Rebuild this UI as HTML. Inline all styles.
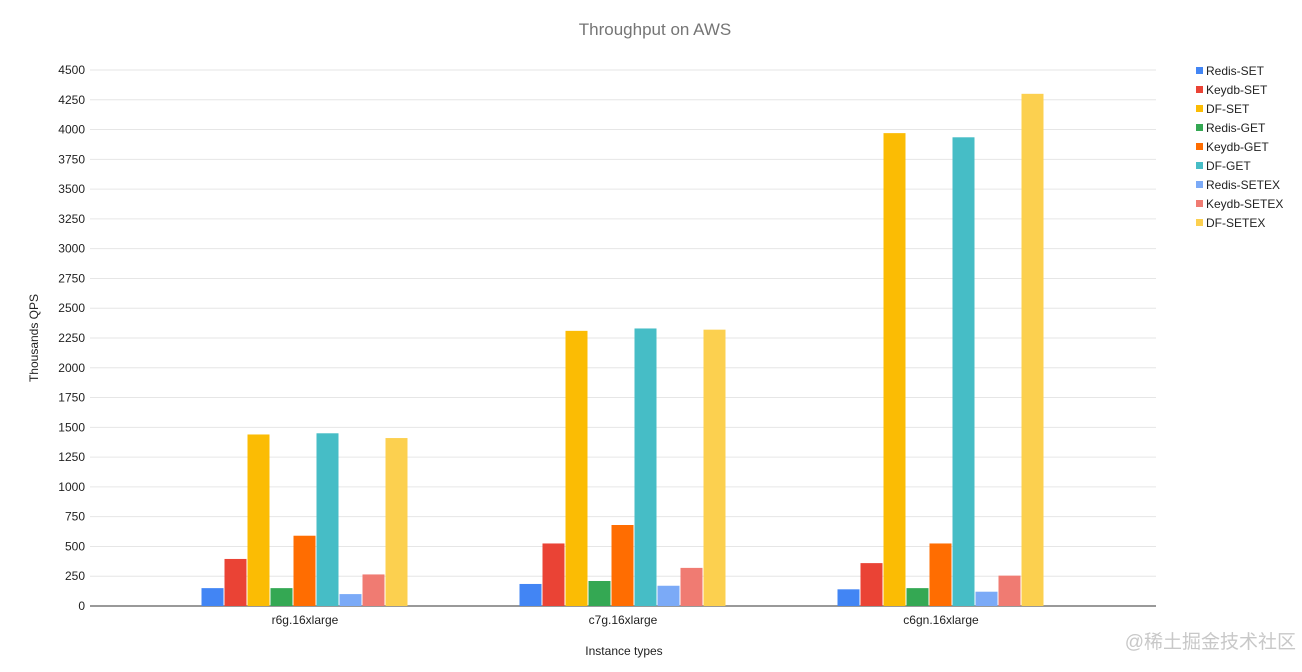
<!DOCTYPE html>
<html><head><meta charset="utf-8"><style>
body{margin:0;background:#fff;font-family:"Liberation Sans","Noto Sans CJK SC",sans-serif;}
svg{display:block}
</style></head><body>
<svg id="chart" width="1302" height="672" xmlns="http://www.w3.org/2000/svg">
<text x="655" y="35" text-anchor="middle" font-size="17" fill="#757575">Throughput on AWS</text>
<text transform="translate(38,338) rotate(-90)" text-anchor="middle" font-size="12" fill="#222">Thousands QPS</text>
<text x="624" y="655" text-anchor="middle" font-size="12" fill="#222">Instance types</text>
<g id="grid"></g><g id="bars"></g><g id="legend"></g>
<text x="1296" y="648" text-anchor="end" font-size="19" fill="#c8c8c8">@稀土掘金技术社区</text>
</svg>
<script>
const categories=["r6g.16xlarge","c7g.16xlarge","c6gn.16xlarge"];
const seriesNames=["Redis-SET","Keydb-SET","DF-SET","Redis-GET","Keydb-GET","DF-GET","Redis-SETEX","Keydb-SETEX","DF-SETEX"];
const redisSet=[150,185,140];
const keydbSet=[395,525,360];
const dfSet=[1440,2310,3970];
const redisGet=[150,210,150];
const keydbGet=[590,680,525];
const dfGet=[1450,2330,3935];
const redisSetex=[100,170,120];
const keydbSetex=[265,320,255];
const dfSetex=[1410,2320,4300];
const yTicks=[0,250,500,750,1000,1250,1500,1750,2000,2250,2500,2750,3000,3250,3500,3750,4000,4250,4500];
const series=[redisSet,keydbSet,dfSet,redisGet,keydbGet,dfGet,redisSetex,keydbSetex,dfSetex];
const colors=["#4285f4","#ea4335","#fbbc04","#34a853","#ff6d01","#46bdc6","#7baaf7","#f07b72","#fcd04f"];
const NS="http://www.w3.org/2000/svg";
const y0=606,y1=70,yMax=4500,xL=90,xR=1156,bandStart=146,band=318,step=23,bw=22;
const y=v=>y0-(v/yMax)*(y0-y1);
const xc=i=>bandStart+band*(i+0.5);
function mk(t,a,p){const e=document.createElementNS(NS,t);for(const k in a)e.setAttribute(k,a[k]);p.appendChild(e);return e;}
const grid=document.getElementById('grid'),bars=document.getElementById('bars'),leg=document.getElementById('legend');
yTicks.forEach(v=>{
 const l=mk('line',{x1:xL,x2:xR,y1:y(v),y2:y(v),stroke:v===0?'#333':'#e6e6e6','stroke-width':1},grid);
 
 
 const t=mk('text',{x:85,y:y(v)+4,'text-anchor':'end','font-size':12,fill:'#222'},grid);
 t.textContent=v;
 
 
});
categories.forEach((c,i)=>{
 const t=mk('text',{x:xc(i),y:624,'text-anchor':'middle','font-size':12,fill:'#222'},grid);
 t.textContent=c;
 
 
 const left=xc(i)-(series.length*step)/2;
 series.forEach((s,j)=>{
  const r=mk('rect',{x:left+j*step,y:y(s[i]),width:bw,height:y0-y(s[i]),fill:colors[j]},bars);
  
  
 });
});
seriesNames.forEach((n,j)=>{
 const yy=71+j*19;
 const r=mk('rect',{x:1196,y:yy-4,width:7,height:7,fill:colors[j]},leg);
 
 
 const t=mk('text',{x:1206,y:yy+4,'font-size':12,fill:'#222'},leg);
 t.textContent=n;
 
 
});
</script>
</body></html>
